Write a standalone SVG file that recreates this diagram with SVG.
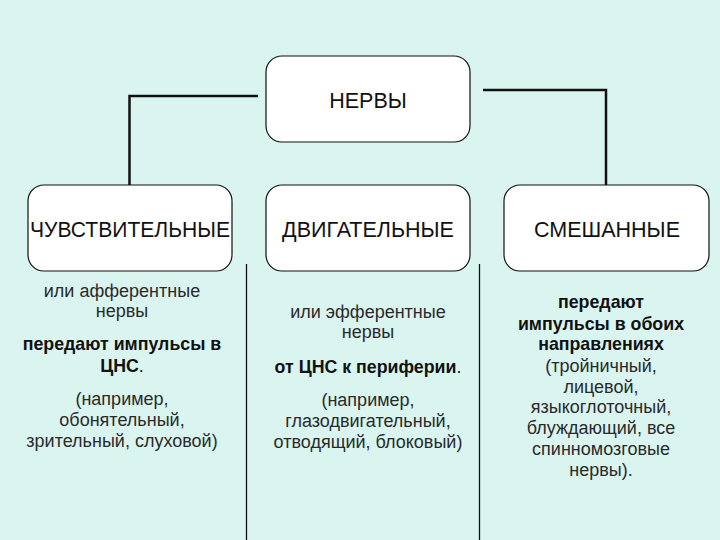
<svg xmlns="http://www.w3.org/2000/svg" width="720" height="540" viewBox="0 0 720 540">
<style>
.box{fill:#fff;stroke:#111;stroke-width:1.2}
.conn{fill:none;stroke:#111;stroke-width:2.5}
.sep{fill:none;stroke:#111;stroke-width:1.3}
.h{font-family:"Liberation Sans",Arial,sans-serif;font-size:21.5px;fill:#111;text-anchor:middle}
.t{font-family:"Liberation Sans",Arial,sans-serif;font-size:18px;fill:#2a2a2a;text-anchor:middle}
.b{font-family:"Liberation Sans",Arial,sans-serif;font-size:17.8px;font-weight:bold;fill:#111;text-anchor:middle}
</style>
<rect width="720" height="540" fill="#daf5f0"/>
<g id="connectors">
<polyline class="conn" points="258,96 129.5,96 129.5,185"/>
<polyline class="conn" points="483,90 606,90 606,185"/>
<line class="sep" x1="246.5" y1="264" x2="246.5" y2="540"/>
<line class="sep" x1="479.5" y1="264" x2="479.5" y2="540"/>
</g>
<g id="nervy">
<rect class="box" x="266" y="56" width="204" height="86" rx="16"/>
<text class="h" x="368" y="108">НЕРВЫ</text>
</g>
<g id="chuvstvitelnye">
<rect class="box" x="28" y="185" width="204" height="86" rx="16"/>
<text class="h" x="130" y="237" textLength="200" lengthAdjust="spacingAndGlyphs">ЧУВСТВИТЕЛЬНЫЕ</text>
</g>
<g id="dvigatelnye">
<rect class="box" x="266" y="185" width="204" height="86" rx="16"/>
<text class="h" x="368" y="237">ДВИГАТЕЛЬНЫЕ</text>
</g>
<g id="smeshannye">
<rect class="box" x="504" y="185" width="205" height="86" rx="16"/>
<text class="h" x="607" y="237">СМЕШАННЫЕ</text>
</g>
<g id="text-left">
<text class="t" x="122" y="297">или афферентные</text>
<text class="t" x="122" y="317">нервы</text>
<text class="b" x="122" y="350">передают импульсы в</text>
<text class="b" x="122" y="372">ЦНС<tspan style="font-weight:normal">.</tspan></text>
<text class="t" x="122" y="405">(например,</text>
<text class="t" x="122" y="426">обонятельный,</text>
<text class="t" x="122" y="447">зрительный, слуховой)</text>
</g>
<g id="text-middle">
<text class="t" x="368" y="318">или эфферентные</text>
<text class="t" x="368" y="338">нервы</text>
<text class="b" x="368" y="373">от ЦНС к периферии<tspan style="font-weight:normal">.</tspan></text>
<text class="t" x="368" y="406">(например,</text>
<text class="t" x="368" y="427">глазодвигательный,</text>
<text class="t" x="368" y="448">отводящий, блоковый)</text>
</g>
<g id="text-right">
<text class="b" x="601" y="308">передают</text>
<text class="b" x="601" y="330">импульсы в обоих</text>
<text class="b" x="601" y="350">направлениях</text>
<text class="t" x="601" y="372">(тройничный,</text>
<text class="t" x="601" y="393">лицевой,</text>
<text class="t" x="601" y="413">языкоглоточный,</text>
<text class="t" x="601" y="434">блуждающий, все</text>
<text class="t" x="601" y="455">спинномозговые</text>
<text class="t" x="601" y="476">нервы).</text>
</g>
</svg>
